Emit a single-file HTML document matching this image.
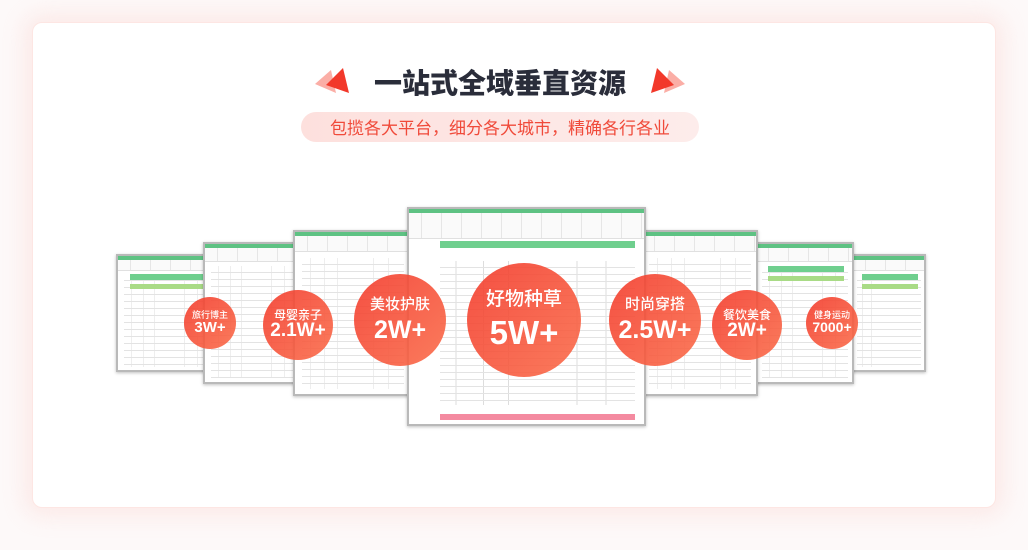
<!DOCTYPE html>
<html><head><meta charset="utf-8">
<style>
*{margin:0;padding:0;box-sizing:border-box}
body{width:1028px;height:550px;background:#fdf9f9;position:relative;overflow:hidden;font-family:"Liberation Sans","Noto Sans CJK SC",sans-serif}
.card{position:absolute;left:32px;top:22px;width:964px;height:486px;background:#fff;border-radius:10px;border:1px solid #fde6e3;box-shadow:0 0 22px 8px rgba(253,215,210,.45)}
.title{position:absolute;left:360px;width:280px;top:62px;text-align:center;font-size:28px;font-weight:900;color:#2a2d3a;letter-spacing:0px;font-family:"Noto Sans CJK SC",sans-serif}
.sub{position:absolute;left:301px;top:112px;width:398px;height:30px;border-radius:15px;background:linear-gradient(90deg,#fde0dd,#fdeceb);color:#f04a3a;font-size:17px;line-height:30px;text-align:center;font-family:"Noto Sans CJK SC",sans-serif}
.sheet{position:absolute;background:#fff;border:2px solid #b9b9b9;box-shadow:0 1px 3px rgba(0,0,0,.25);overflow:hidden}
.sheet .tb{height:4px;background:#5ec283}
.sheet .tool{height:10%;background:repeating-linear-gradient(90deg,#fafafa 0 12px,#e6e6e6 12px 13px,#fafafa 13px 20px);border-bottom:1px solid #e0e0e0}
.sheet .grid{position:absolute;left:6%;right:4%;top:16%;bottom:3%;background:
repeating-linear-gradient(180deg,transparent 0 6px,#e3e3e3 6px 7px),
linear-gradient(90deg,transparent 0 8%,#ddd 8% 8.5%,transparent 8.5% 22%,#ddd 22% 22.5%,transparent 22.5% 35%,#ddd 35% 35.5%,transparent 35.5% 70%,#ddd 70% 70.5%,transparent 70.5% 85%,#ddd 85% 85.5%,transparent 85.5%)}
.sheet .gh{position:absolute;left:12%;right:8%;top:16%;height:6px;background:#6fcf8e}
.sheet .gh2{position:absolute;left:12%;right:8%;top:calc(16% + 10px);height:5px;background:#a9db86}
.circ{position:absolute;border-radius:50%;background:linear-gradient(135deg,rgba(243,60,45,.9),rgba(250,105,70,.88));color:#fff;text-align:center;display:flex;flex-direction:column;justify-content:center;align-items:center;font-family:"Noto Sans CJK SC",sans-serif}
.circ b{font-weight:500;display:block;line-height:1.1}
.circ span{display:block;font-family:"Liberation Sans",sans-serif;font-weight:700;line-height:1.1}
</style></head><body>
<div class="card"></div>

<svg style="position:absolute;left:0;top:0" width="1028" height="120">
<polygon points="315,84 331,70 336,93" fill="#fbaea6"/>
<polygon points="326,85 343,68 349,93" fill="#f2382a"/>
<polygon points="685,84 669,70 664,93" fill="#fbaea6"/>
<polygon points="674,85 657,68 651,93" fill="#f2382a"/>
</svg>
<div class="title">一站式全域垂直资源</div>
<div class="sub">包揽各大平台，细分各大城市，精确各行各业</div>

<div class="sheet" style="left:116px;top:254px;width:100px;height:118px"><div class="tb"></div><div class="tool"></div><div class="grid"></div><div class="gh"></div><div class="gh2"></div></div>
<div class="sheet" style="left:851px;top:254px;width:75px;height:118px"><div class="tb"></div><div class="tool"></div><div class="grid"></div><div class="gh"></div><div class="gh2"></div></div>
<div class="sheet" style="left:203px;top:242px;width:100px;height:142px"><div class="tb"></div><div class="tool"></div><div class="grid"></div></div>
<div class="sheet" style="left:754px;top:242px;width:100px;height:142px"><div class="tb"></div><div class="tool"></div><div class="grid"></div><div class="gh"></div><div class="gh2"></div></div>
<div class="sheet" style="left:293px;top:230px;width:118px;height:166px"><div class="tb"></div><div class="tool"></div><div class="grid"></div></div>
<div class="sheet" style="left:640px;top:230px;width:118px;height:166px"><div class="tb"></div><div class="tool"></div><div class="grid"></div></div>
<div class="sheet" style="left:407px;top:207px;width:239px;height:219px"><div class="tb"></div><div class="tool" style="height:12%"></div>
<div class="grid" style="left:13%;top:24%;bottom:9%"></div>
<div style="position:absolute;left:13%;right:4%;top:15%;height:7px;background:#6fcf8e"></div>
<div style="position:absolute;left:13%;right:4%;bottom:2%;height:6px;background:#f48aa0"></div>
</div>

<div class="circ" style="left:184px;top:297px;width:52px;height:52px"><b style="font-size:9px">旅行博主</b><span style="font-size:15px">3W+</span></div>
<div class="circ" style="left:263px;top:290px;width:70px;height:70px"><b style="font-size:12px">母婴亲子</b><span style="font-size:19px">2.1W+</span></div>
<div class="circ" style="left:354px;top:274px;width:92px;height:92px"><b style="font-size:15px">美妆护肤</b><span style="font-size:25px;margin-top:4px">2W+</span></div>
<div class="circ" style="left:467px;top:263px;width:114px;height:114px"><b style="font-size:19px">好物种草</b><span style="font-size:33px;margin-top:6px">5W+</span></div>
<div class="circ" style="left:609px;top:274px;width:92px;height:92px"><b style="font-size:15px">时尚穿搭</b><span style="font-size:25px;margin-top:4px">2.5W+</span></div>
<div class="circ" style="left:712px;top:290px;width:70px;height:70px"><b style="font-size:12px">餐饮美食</b><span style="font-size:19px">2W+</span></div>
<div class="circ" style="left:806px;top:297px;width:52px;height:52px"><b style="font-size:9px">健身运动</b><span style="font-size:14px">7000+</span></div>
</body></html>
